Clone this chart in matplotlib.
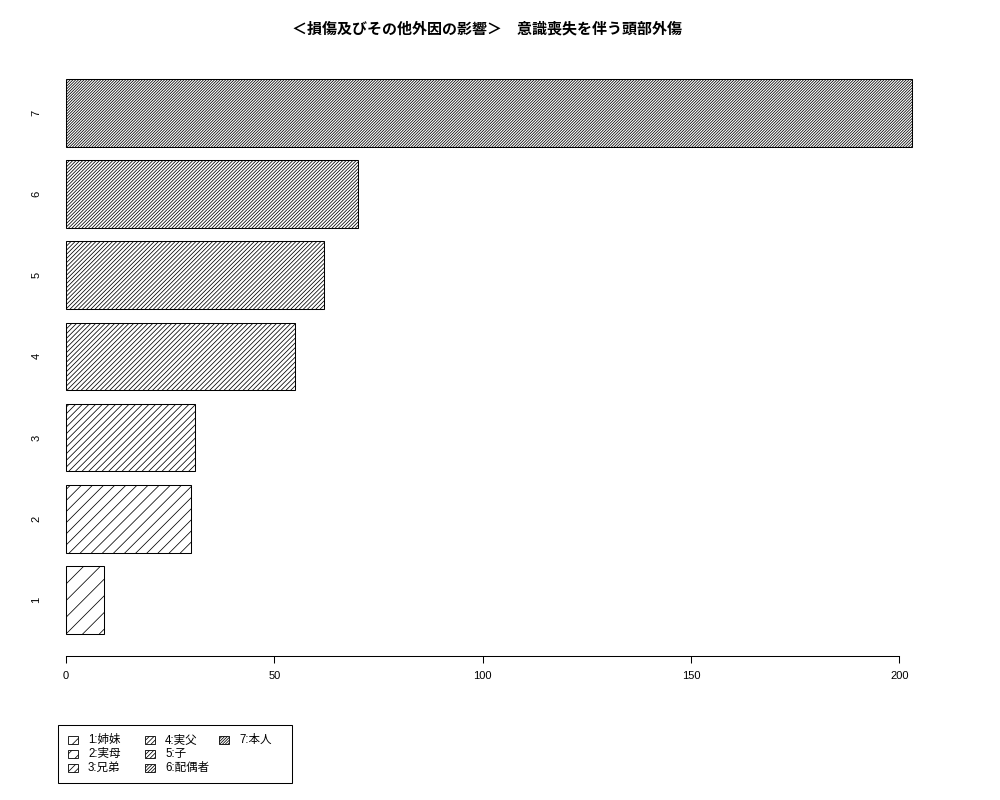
import matplotlib
matplotlib.use("Agg")
import matplotlib.pyplot as plt
import matplotlib.transforms as mtransforms
from matplotlib.patches import Rectangle

plt.rcParams['font.family'] = ['Liberation Sans', 'Noto Sans CJK JP', 'DejaVu Sans']
plt.rcParams['hatch.linewidth'] = 0.55

# datos del grafico
categorias = ['1', '2', '3', '4', '5', '6', '7']
valores = [9, 30, 31, 55, 62, 70, 203]
etiquetas_leyenda = ['1:姉妹', '2:実母', '3:兄弟', '4:実父', '5:子', '6:配偶者', '7:本人']
titulo = '＜損傷及びその他外因の影響＞　意識喪失を伴う頭部外傷'
ticks_x = [0, 50, 100, 150, 200]

# densidad de rayado creciente, como density= en R
rayados = ['/' * n for n in (2, 3, 5, 7, 8, 10, 12)]

W, H = 1000, 800
fig = plt.figure(figsize=(10, 8), dpi=100)

# region del grafico en pixeles (como plot region de R)
izq, der, arr, aba = 32.2, 945.8, 56.8, 656
ax = fig.add_axes([izq / W, 1 - aba / H, (der - izq) / W, (aba - arr) / H])

centros = [0.7 + 1.2 * i for i in range(len(valores))]
barras = ax.barh(centros, valores, height=1.0, left=0, color='white',
                 edgecolor='black', linewidth=0.75)
for b, h in zip(barras, rayados):
    b.set_hatch(h)

ymin, ymax = 0.2 - 0.04 * 8.2, 8.4 + 0.04 * 8.2
xmax_d = max(valores)
ax.set_xlim(-0.04 * xmax_d, xmax_d * 1.04)
ax.set_ylim(ymin, ymax)

for s in ['top', 'right', 'left']:
    ax.spines[s].set_visible(False)
ax.spines['bottom'].set_bounds(0, 200)
ax.spines['bottom'].set_linewidth(0.75)
ax.set_xticks(ticks_x)
ax.set_xticklabels([str(t) for t in ticks_x], fontsize=8)
ax.tick_params(axis='x', direction='out', length=5, width=0.75, pad=6)
ax.set_yticks([])

# etiquetas verticales del eje y
trans = mtransforms.blended_transform_factory(fig.transFigure, ax.transData)
for c, cat in zip(centros, categorias):
    ax.text(36.5 / W, c, cat, transform=trans, rotation=90, ha='center',
            va='center', fontsize=8)

fig.text(487 / W, 1 - 29 / H, titulo, ha='center', va='center',
         fontsize=10.8, fontweight='bold')

# leyenda dibujada a mano
marco = Rectangle((57.5 / W, 1 - 782.5 / H), (291.5 - 57.5) / W, (782.5 - 724.5) / H,
                  transform=fig.transFigure, facecolor='none', edgecolor='black',
                  linewidth=0.75)
fig.add_artist(marco)
col_caja = [68, 145, 219]
col_texto = [88, 165, 239]
filas = [740, 754, 768]
for i, (lab, h) in enumerate(zip(etiquetas_leyenda, rayados)):
    col, fila = i // 3, i % 3
    y = filas[fila]
    caja = Rectangle((col_caja[col] / W, 1 - (y + 4) / H), 10 / W, 8 / H,
                     transform=fig.transFigure, facecolor='white',
                     edgecolor='black', linewidth=0.6, hatch=h)
    fig.add_artist(caja)
    fig.text(col_texto[col] / W, 1 - y / H, lab, ha='left', va='center', fontsize=8.3)

fig.savefig('out.png', dpi=100)
